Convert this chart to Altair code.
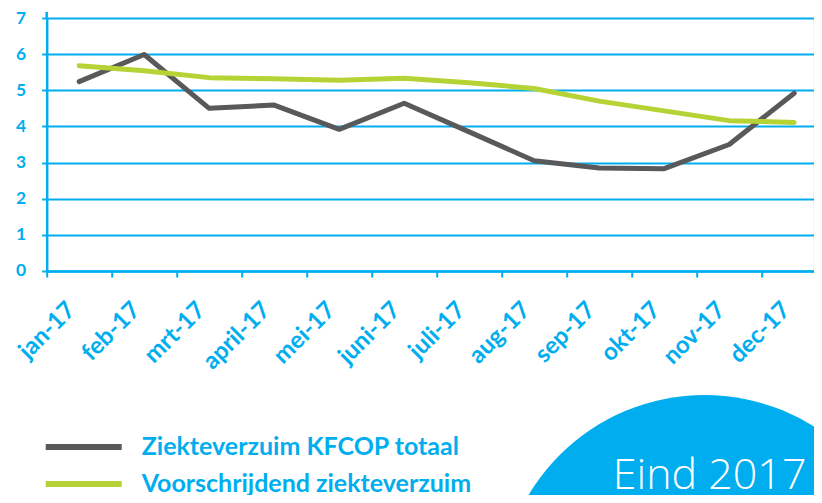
import altair as alt
import pandas as pd

# ---- data ----
months = ["jan-17", "feb-17", "mrt-17", "april-17", "mei-17", "juni-17",
          "juli-17", "aug-17", "sep-17", "okt-17", "nov-17", "dec-17"]
totaal = [5.24, 5.99, 4.50, 4.59, 3.92, 4.64, 3.85, 3.05, 2.85, 2.83, 3.50, 4.92]
voorschrijdend = [5.68, 5.54, 5.35, 5.32, 5.28, 5.33, 5.21, 5.05, 4.70, 4.43, 4.16, 4.11]
series_names = ["Ziekteverzuim KFCOP totaal", "Voorschrijdend ziekteverzuim"]
series_colors = ["#58595B", "#B5D334"]
y_ticks = [0, 1, 2, 3, 4, 5, 6, 7]
badge_text = "Eind 2017"

BLUE = "#00AEEF"

df = pd.DataFrame({
    "maand": months * 2,
    "waarde": totaal + voorschrijdend,
    "reeks": [series_names[0]] * len(months) + [series_names[1]] * len(months),
})

W, H = 767, 253
BAND_RANGE = 780

x_enc = alt.X(
    "maand:N", sort=months,
    scale=alt.Scale(type="band", paddingInner=0, paddingOuter=0, range=[0, BAND_RANGE]),
    axis=alt.Axis(
        title=None, labelAngle=-45, labelAlign="right", labelBaseline="alphabetic",
        labelPadding=34, labelOffset=-3, labelFont="Lato", labelFontWeight="bold",
        labelFontSize=24, labelColor=BLUE, tickColor=BLUE, tickSize=6, tickWidth=2,
        tickBand="extent", domainColor=BLUE, domainWidth=2.5, grid=False,
        labelOverlap=False, labelBound=False,
    ),
)
y_enc = alt.Y(
    "waarde:Q",
    scale=alt.Scale(domain=[0, 7], nice=False, zero=True),
    axis=alt.Axis(
        title=None, values=y_ticks, format="d", labelFont="Lato", labelFontWeight="bold",
        labelFontSize=17.5, labelColor=BLUE, labelPadding=16, tickColor=BLUE, tickSize=5,
        tickWidth=2, domainColor=BLUE, domainWidth=2.5, grid=True, gridColor=BLUE,
        gridWidth=2, gridOpacity=1,
    ),
)
color_enc = alt.Color(
    "reeks:N",
    scale=alt.Scale(domain=series_names, range=series_colors),
    sort=series_names,
    legend=alt.Legend(
        title=None, orient="none", legendX=-4, legendY=414, direction="vertical",
        symbolType="stroke", symbolSize=5776, symbolStrokeWidth=6,
        labelFont="Lato", labelFontWeight="bold", labelFontSize=25, labelColor=BLUE,
        labelOffset=17, clipHeight=30, rowPadding=7, padding=0, labelLimit=500,
    ),
)

lines = alt.Chart(df).mark_line(strokeWidth=5, strokeJoin="round", strokeCap="round").encode(
    x=x_enc, y=y_enc, color=color_enc,
    order=alt.Order("reeks:N"),
)

badge_data = alt.Data(values=[{"label": badge_text}])
badge_radius = 205
badge = alt.Chart(badge_data).mark_circle(
    size=(2 * badge_radius) ** 2, color=BLUE, opacity=1
).encode(x=alt.value(658), y=alt.value(582))
badge_label = alt.Chart(badge_data).mark_text(
    align="left", baseline="alphabetic", font="Open Sans", fontWeight=300,
    fontSize=43, color="white"
).encode(x=alt.value(566), y=alt.value(471), text="label:N")

axis_top = alt.Chart(badge_data).mark_rule(color=BLUE, strokeWidth=2.5).encode(
    x=alt.value(0), y=alt.value(-6), y2=alt.value(0)
)

chart = alt.layer(axis_top, badge, badge_label, lines).properties(
    width=W, height=H,
    autosize=alt.AutoSizeParams(type="none"),
    padding={"left": 38.7, "top": 10, "right": 0, "bottom": 224},
).configure_view(stroke=None).configure(background="white")

chart.save("out.html", embed_options={"renderer": "svg", "actions": False})
